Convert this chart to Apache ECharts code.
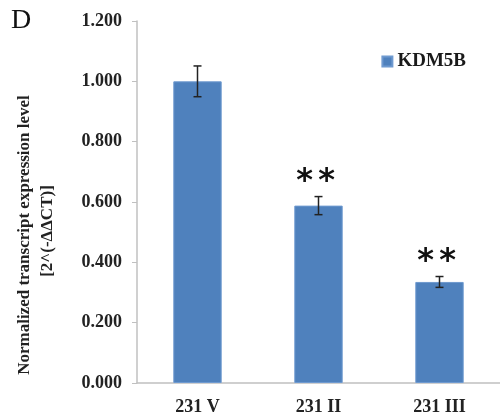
<!DOCTYPE html>
<html>
<head>
<meta charset="UTF-8">
<script src="https://cdn.jsdelivr.net/npm/echarts@6/dist/echarts.min.js"></script>
<style>
  html, body { margin: 0; padding: 0; background: #fff; }
  #chart { width: 500px; height: 416px; }
</style>
</head>
<body>
<div id="chart"></div>
<script>
var categories = ['231 V', '231 II', '231 III'];
var values = [1.000, 0.588, 0.335];
var errors = [0.051, 0.030, 0.018];
var marks = ['', '**', '**'];

var serif = '"Liberation Serif", "Times New Roman", serif';
var chart = echarts.init(document.getElementById('chart'));

chart.setOption({
  animation: false,
  grid: { left: 137, right: 0, top: 21, bottom: 33 },
  legend: {
    data: ['KDM5B'],
    right: 29,
    top: 47,
    itemWidth: 10,
    itemHeight: 10,
    itemGap: 4,
    icon: 'rect',
    textStyle: { fontFamily: serif, fontWeight: 'bold', fontSize: 19, color: '#1a1a1a' }
  },
  graphic: [
    {
      type: 'text', left: 11, top: 7,
      style: { text: 'D', font: '28px ' + serif, fill: '#111' }
    },
    {
      type: 'text', x: 25, y: 235, rotation: Math.PI / 2,
      style: {
        text: 'Normalized transcript expression level',
        font: 'bold 17px ' + serif, fill: '#222', align: 'center', verticalAlign: 'middle'
      }
    },
    {
      type: 'text', x: 48, y: 231, rotation: Math.PI / 2,
      style: {
        text: '[2^(-\u0394\u0394CT)]',
        font: 'bold 17px ' + serif, fill: '#222', align: 'center', verticalAlign: 'middle'
      }
    }
  ],
  xAxis: {
    type: 'category',
    data: categories,
    axisLine: { lineStyle: { color: '#c0c0c0', width: 1.5 } },
    axisTick: { show: false },
    axisLabel: { fontFamily: serif, fontWeight: 'bold', fontSize: 18, color: '#222', margin: 15 }
  },
  yAxis: {
    type: 'value',
    min: 0,
    max: 1.2,
    interval: 0.2,
    splitLine: { show: false },
    axisLine: { show: true, lineStyle: { color: '#c0c0c0', width: 1.5 } },
    axisTick: { show: true, length: 5, lineStyle: { color: '#c0c0c0' } },
    axisLabel: {
      fontFamily: serif, fontWeight: 'bold', fontSize: 18, color: '#222', margin: 15,
      formatter: function (v) { return v.toFixed(3); }
    }
  },
  series: [
    {
      name: 'KDM5B',
      type: 'bar',
      data: values,
      barWidth: '40%',
      itemStyle: { color: '#4f81bd', borderColor: '#6f9ad0', borderWidth: 1 }
    },
    {
      type: 'custom',
      z: 5,
      data: values.map(function (v, i) { return [i, v, errors[i]]; }),
      renderItem: function (params, api) {
        var x = api.value(0);
        var hi = api.coord([x, api.value(1) + api.value(2)]);
        var lo = api.coord([x, api.value(1) - api.value(2)]);
        var cx = hi[0];
        var cap = 4;
        var style = { stroke: '#222', lineWidth: 1.5 };
        var children = [
          { type: 'line', shape: { x1: cx, y1: hi[1], x2: cx, y2: lo[1] }, style: style },
          { type: 'line', shape: { x1: cx - cap, y1: hi[1], x2: cx + cap, y2: hi[1] }, style: style },
          { type: 'line', shape: { x1: cx - cap, y1: lo[1], x2: cx + cap, y2: lo[1] }, style: style }
        ];
        var m = marks[params.dataIndex];
        for (var k = 0; k < m.length; k++) {
          children.push({
            type: 'text',
            x: cx - 3 + (k - (m.length - 1) / 2) * 22,
            y: hi[1] - 15,
            style: {
              text: m.charAt(k),
              font: 'bold 32px "DejaVu Sans", sans-serif',
              fill: '#111', align: 'center', verticalAlign: 'middle'
            }
          });
        }
        return { type: 'group', children: children };
      }
    }
  ]
});
</script>
</body>
</html>
